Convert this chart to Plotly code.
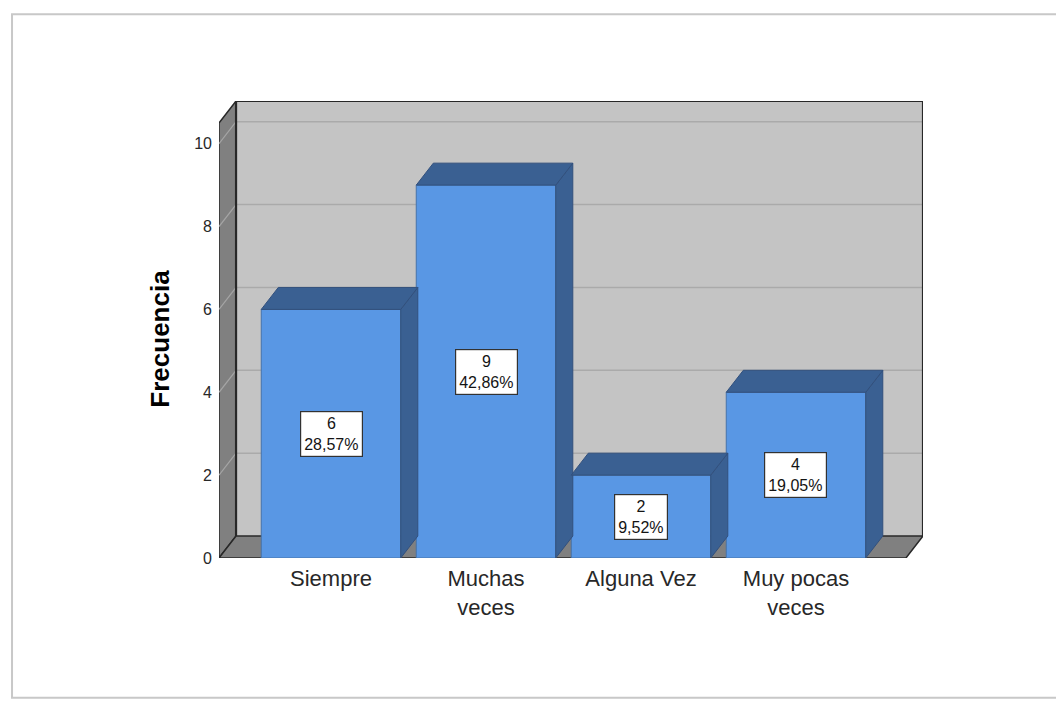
import plotly.graph_objects as go

# ---- data ----
categories = ["Siempre", "Muchas<br>veces", "Alguna Vez", "Muy pocas<br>veces"]
frecuencia = [6, 9, 2, 4]
porcentaje = ["28,57%", "42,86%", "9,52%", "19,05%"]
y_ticks = [0, 2, 4, 6, 8, 10]

# ---- style / geometry ----
FRONT = "rgb(89,151,228)"
DARK = "rgb(58,96,146)"
WALL = "rgb(196,196,196)"
SIDE = "rgb(128,128,128)"
GRID = "rgb(170,170,170)"
EDGE = "rgb(40,40,40)"

BAR_W = 0.9
DX, DY = 0.11, 0.53          # depth offset in data units
X_LO, X_HI = -0.7226, 3.8194
Y_FRONT_TOP = 10.5
Y_HI = Y_FRONT_TOP + DY
X_FRONT_RIGHT = X_HI - DX

xs = list(range(len(categories)))

fig = go.Figure()

shapes = []
# back wall
shapes.append(dict(type="rect", xref="x", yref="y", layer="below",
                   x0=X_LO + DX, x1=X_HI, y0=DY, y1=Y_HI,
                   fillcolor=WALL, line=dict(width=0)))
# back wall gridlines
for v in y_ticks[1:]:
    shapes.append(dict(type="line", xref="x", yref="y", layer="below",
                       x0=X_LO + DX, x1=X_HI, y0=v + DY, y1=v + DY,
                       line=dict(color=GRID, width=1.5)))
# left side wall
shapes.append(dict(type="path", xref="x", yref="y", layer="below",
                   path=f"M {X_LO},0 L {X_LO},{Y_FRONT_TOP} L {X_LO+DX},{Y_HI} L {X_LO+DX},{DY} Z",
                   fillcolor=SIDE, line=dict(color=EDGE, width=1.5)))
for v in y_ticks[1:]:
    shapes.append(dict(type="line", xref="x", yref="y", layer="below",
                       x0=X_LO, x1=X_LO + DX, y0=v, y1=v + DY,
                       line=dict(color="rgb(165,165,165)", width=1.2)))
# floor
shapes.append(dict(type="path", xref="x", yref="y", layer="below",
                   path=f"M {X_LO},0 L {X_FRONT_RIGHT},0 L {X_HI},{DY} L {X_LO+DX},{DY} Z",
                   fillcolor=SIDE, line=dict(color=EDGE, width=1.5)))
# back wall outline (top and right edge), inner left corner
shapes.append(dict(type="path", xref="x", yref="y", layer="below",
                   path=f"M {X_LO+DX},{DY} L {X_LO+DX},{Y_HI} L {X_HI},{Y_HI} L {X_HI},{DY}",
                   line=dict(color=EDGE, width=2.2)))
# page frame (left, top, bottom edges; right edge outside the picture)
shapes.append(dict(type="path", xref="paper", yref="paper", layer="below",
                   path="M 1.4,-0.306 L -0.294,-0.306 L -0.294,1.19 L 1.4,1.19",
                   line=dict(color="rgb(200,200,200)", width=2)))

# front faces of bars
fig.add_trace(go.Bar(x=xs, y=frecuencia, width=BAR_W,
                     marker=dict(color=FRONT, line=dict(color="rgb(70,115,170)", width=1)),
                     hoverinfo="skip", showlegend=False))

# side and top faces
for x, v in zip(xs, frecuencia):
    l, r = x - BAR_W / 2, x + BAR_W / 2
    fig.add_trace(go.Scatter(
        x=[r, r, r + DX, r + DX, r], y=[0, v, v + DY, DY, 0],
        fill="toself", fillcolor=DARK, mode="lines",
        line=dict(color="rgb(50,80,125)", width=1),
        hoverinfo="skip", showlegend=False))
    fig.add_trace(go.Scatter(
        x=[l, r, r + DX, l + DX, l], y=[v, v, v + DY, v + DY, v],
        fill="toself", fillcolor=DARK, mode="lines",
        line=dict(color="rgb(50,80,125)", width=1),
        hoverinfo="skip", showlegend=False))

annotations = []
for x, v, p in zip(xs, frecuencia, porcentaje):
    annotations.append(dict(x=x, y=v / 2, xref="x", yref="y",
                            text=f"{v}<br>{p}", showarrow=False,
                            font=dict(family="Liberation Sans, Arial", size=16, color="rgb(20,20,20)"),
                            bgcolor="white", bordercolor="rgb(50,50,50)",
                            borderwidth=1.2, borderpad=3))
annotations.append(dict(x=-0.083, y=0.479, xref="paper", yref="paper",
                        text="<b>Frecuencia</b>", textangle=-90, showarrow=False,
                        xanchor="center", yanchor="middle",
                        font=dict(family="Liberation Sans, Arial", size=26, color="black")))

fig.update_layout(
    width=1056, height=694,
    margin=dict(l=211, r=141, t=93, b=144),
    paper_bgcolor="white", plot_bgcolor="white",
    shapes=shapes, annotations=annotations,
    showlegend=False,
    xaxis=dict(range=[X_LO, X_HI], tickvals=xs, ticktext=categories,
               showgrid=False, zeroline=False, showline=False, ticks="",
               tickfont=dict(family="Liberation Sans, Arial", size=22, color="rgb(40,40,40)"),
               ticklabelstandoff=5, fixedrange=True),
    yaxis=dict(range=[0, Y_HI], tickvals=y_ticks,
               showgrid=False, zeroline=False, showline=False, ticks="",
               tickfont=dict(family="Liberation Sans, Arial", size=16, color="rgb(40,40,40)"),
               ticklabelstandoff=6, fixedrange=True),
)

fig.write_html("out.html")
